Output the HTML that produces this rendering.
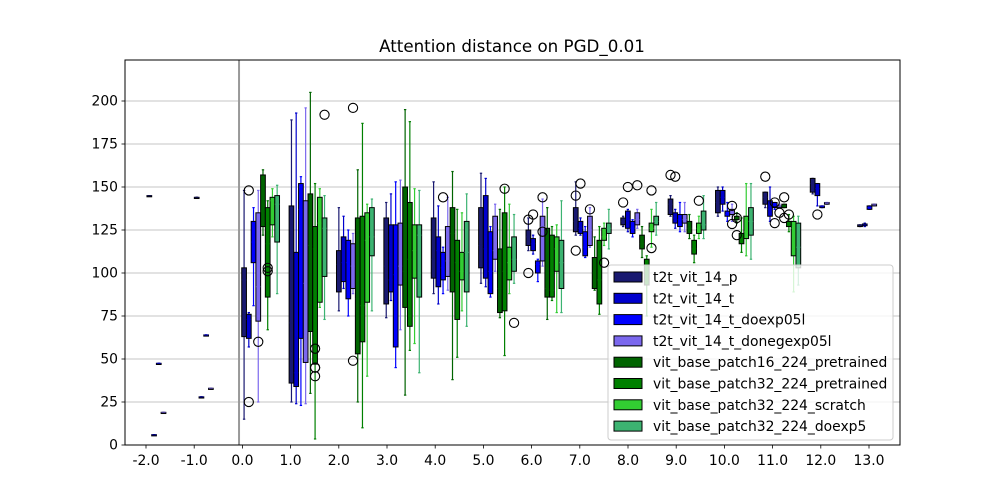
<!DOCTYPE html>
<html><head><meta charset="utf-8"><style>
html,body{margin:0;padding:0;background:#fff;}
svg{display:block;font-family:"DejaVu Sans","Liberation Sans",sans-serif;}
</style></head><body>
<svg id="chart" width="1000" height="500" viewBox="0 0 1000 500" xmlns="http://www.w3.org/2000/svg">
<rect x="0" y="0" width="1000" height="500" fill="#fff"/>
<text x="512" y="52" text-anchor="middle" font-size="16.7" fill="#000">Attention distance on PGD_0.01</text>
<g id="grid"></g>
<g id="marks"></g>
<g id="axes"></g>
<g id="legend"></g>
</svg>
<script>
const seriesNames = ["t2t_vit_14_p","t2t_vit_14_t","t2t_vit_14_t_doexp05l","t2t_vit_14_t_donegexp05l","vit_base_patch16_224_pretrained","vit_base_patch32_224_pretrained","vit_base_patch32_224_scratch","vit_base_patch32_224_doexp5"];
const seriesColors = ["#191970","#0000CD","#0000FF","#7B68EE","#006400","#008000","#32CD32","#3CB371"];
const groups = [-2,-1,0,1,2,3,4,5,6,7,8,9,10,11,12,13];
const xTicks = [-2,-1,0,1,2,3,4,5,6,7,8,9,10,11,12,13];
const xTickLabels = ["-2.0","-1.0","0.0","1.0","2.0","3.0","4.0","5.0","6.0","7.0","8.0","9.0","10.0","11.0","12.0","13.0"];
const yTicks = [0,25,50,75,100,125,150,175,200];
// per group: per series [whiskerLo, q1, median, q3, whiskerHi]
const boxStats = [
 [[145,145,145,145,145],[6,6,6,6,6],[47.5,47.5,47.5,47.5,47.5],[19,19,19,19,19],null,null,null,null],
 [[144,144,144,144,144],[28,28,28,28,28],[64,64,64,64,64],[33,33,33,33,33],null,null,null,null],
 [[15,63,96,103,148],[57,62,73,76,77],[81,106,118,130,138],[25,72,92,135,148],[122,127,136,157,160],[67,86,117,138,142],[121,128,142,144,149],[88,118,140,145,151]],
 [[25,36,71,139,189],[24,34,42,112,193],[23,62,137,152,156],[24,48,94,142,196],[30,66,116,146,205],[3.5,47,114,127,152],[80,83,129,144,149],[73,98,126,132,145]],
 [[78,89,105,113,138],[91,95,106,121,133],[75,85,106,119,125],[88,91,104,117,123],[25,53,85,132,160],[10,60,81,133,187],[40,83,119,135,140],[78,110,121,138,143]],
 [[74,82,104,132,141],[84,89,96,128,146],[45,57,99,128,153],[67,93,104,129,154],[29,80,101,150,195],[55,69,108,141,188],[59,97,113,128,149],[42,86,122,128,148]],
 [[88,97,108,132,153],[82,92,113,121,139],[88,96,103,112,115],[90,98,107,127,144],[38,89,123,138,159],[51,73,106,119,137],[78,96,101,112,135],[69,89,112,130,146]],
 [[94,103,116,138,158],[92,97,114,145,155],[86,88,101,124,127],[101,108,113,133,140],[74,77,91,114,137],[52,78,101,135,150],[88,96,106,115,140],[94,101,108,121,134]],
 [[113,116,121,125,132],[111,113,117,120,122],[95,100,105,107,108],[104,107,127,133,143],[73,86,91,126,138],[84,86,90,122,127],[77,101,114,121,128],[77,91,106,119,142]],
 [[122,124,130,138,153],[122,123,126,130,132],[109,110,115,124,127],[115,116,125,133,138],[90,91,100,109,121],[76,82,96,119,127],[116,119,121,126,129],[114,123,126,129,137]],
 [[127,128,130,132,133],[124,126,131,136,137],[121,123,126,130,131],[126,128,131,135,137],[109,114,117,122,127],[75,93,100,108,110],[115,124,126,129,137],[122,128,130,133,141]],
 [[133,134,140,143,145],[126,129,132,135,137],[124,127,131,134,141],[124,129,131,134,141],[120,123,126,130,134],[106,111,114,119,122],[120,123,126,129,133],[120,125,128,136,145]],
 [[133,135,141,148,150],[136,140,144,148,150],[130,133,134,136,141],[130,134,135,137,140],[129,131,132,133,135],[112,117,120,123,132],[110,120,124,133,152],[108,122,130,138,152]],
 [[138,140,144,147,147],[130,133,137,142,150],[137,138,139,141,141],[138,138,139,139,140],[138,138,139,140,140],[124,127,128,130,134],[89,110,126,130,133],[93,103,115,129,133]],
 [[146,147,152,155,155],[139,145,149,152,152],[138,138,139,139,139],[140,140,141,141,141],null,null,null,null],
 [[127,127,128,128,128],[127,127.5,128,128.5,129],[137,137,138,139,139],[139,139,140,140,140],null,null,null,null]
];
const outlierGroup  = [0,0,0,0,0,1,1,1,1,1,2,2,4,5,5,6,6,6,6,6,7,7,7,7,7,8,8,8,8,8,9,9,9,10,10,10,10,11,11,11,11,11,11,11,12];
const outlierSeries = [1,1,3,5,5,5,5,5,5,7,3,3,2,5,7,0,0,1,3,3,0,1,0,3,6,0,1,3,6,6,0,1,6,3,3,4,4,0,2,2,3,4,4,5,1];
const outlierValues = [148,25,60,101,103,56,45,45,40,192,196,49,144,149,71,100,131,134,144,124,145,152,113,137,106,141,150,151,148,114.5,157,156,142,128.5,139,122,132,156,141,129,135,132,144,134,134];

const NS="http://www.w3.org/2000/svg";
const L=125,R=900,T=60,B=445;
function xs(v){return 242.4+v*48.2;}
function ys(v){return 445-v*1.72;}
function boxPosVal(g,si){return g*0.983+0.035+si*0.098;}
function mk(tag,attrs,parent){const e=document.createElementNS(NS,tag);for(const k in attrs)e.setAttribute(k,attrs[k]);parent.appendChild(e);return e;}
const grid=document.getElementById('grid'),marks=document.getElementById('marks'),axes=document.getElementById('axes'),legend=document.getElementById('legend');

yTicks.forEach(t=>{
  const g=mk('line',{x1:L,x2:R,y1:ys(t),y2:ys(t),stroke:'#b0b0b0','stroke-width':0.8},grid);
  
  
});
const vl=mk('line',{x1:xs(-0.07),x2:xs(-0.07),y1:T,y2:B,stroke:'#999','stroke-width':2},grid);



const hw=0.049*48.2;
boxStats.forEach((grp,gi)=>{
  grp.forEach((s,si)=>{
    if(!s)return;
    const cx=xs(boxPosVal(groups[gi],si)),col=seriesColors[si];
    const g=mk('g',{},marks);
    
    
    mk('line',{x1:cx,x2:cx,y1:ys(s[0]),y2:ys(s[4]),stroke:col,'stroke-width':1.2},g);
    mk('line',{x1:cx-hw/2,x2:cx+hw/2,y1:ys(s[0]),y2:ys(s[0]),stroke:col,'stroke-width':1.2},g);
    mk('line',{x1:cx-hw/2,x2:cx+hw/2,y1:ys(s[4]),y2:ys(s[4]),stroke:col,'stroke-width':1.2},g);
    const h=Math.max(ys(s[1])-ys(s[3]),1.2);
    mk('rect',{x:cx-hw,y:ys(s[3]),width:hw*2,height:h,fill:col,stroke:'#000','stroke-width':1},g);
    mk('line',{x1:cx-hw,x2:cx+hw,y1:ys(s[2]),y2:ys(s[2]),stroke:col,'stroke-width':1,'stroke-opacity':0.6},g);
  });
});
outlierValues.forEach((v,i)=>{
  const c=mk('circle',{cx:xs(boxPosVal(outlierGroup[i],outlierSeries[i])),cy:ys(v),r:4.6,fill:'none',stroke:'#000','stroke-width':1.1},marks);
  
  
});

const frame=mk('rect',{x:L,y:T,width:R-L,height:B-T,fill:'none',stroke:'#000','stroke-width':1},axes);


yTicks.forEach(t=>{
  mk('line',{x1:L-3.5,x2:L,y1:ys(t),y2:ys(t),stroke:'#000','stroke-width':0.8},axes);
  const tx=mk('text',{x:L-7,y:ys(t)+4.5,'text-anchor':'end','font-size':13.9,fill:'#000'},axes);
  tx.textContent=t;
  
  
});
xTicks.forEach((t,i)=>{
  mk('line',{x1:xs(t),x2:xs(t),y1:B,y2:B+3.5,stroke:'#000','stroke-width':0.8},axes);
  const tx=mk('text',{x:xs(t),y:B+20,'text-anchor':'middle','font-size':13.9,fill:'#000'},axes);
  tx.textContent=xTickLabels[i];
  
  
});

const lx=608,ly=265,lw=285,lh=175;
mk('rect',{x:lx,y:ly,width:lw,height:lh,rx:3,fill:'#fff','fill-opacity':0.8,stroke:'#ccc','stroke-width':1},legend);
seriesNames.forEach((n,i)=>{
  const y=ly+12+i*21.3;
  const g=mk('g',{},legend);
  
  
  mk('rect',{x:lx+6,y:y-5,width:28,height:10,fill:seriesColors[i],stroke:'#000','stroke-width':1},g);
  const t=mk('text',{x:lx+45,y:y+5,'font-size':13.9,fill:'#000'},g);
  t.textContent=n;
});
</script>
</body></html>
